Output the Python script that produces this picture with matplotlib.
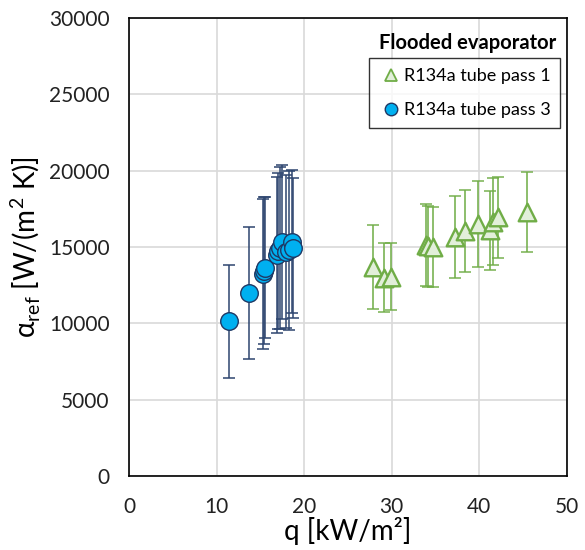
import matplotlib
matplotlib.use("Agg")
import matplotlib.pyplot as plt
from matplotlib.lines import Line2D

plt.rcParams['font.family'] = ['Lato', 'DejaVu Sans']

# Tube pass 1 (R134a)
q_pass1 = [27.9, 29.1, 29.9, 33.9, 34.1, 34.7, 37.2, 38.4, 39.8, 41.2, 41.6, 42.1, 45.4]
a_pass1 = [13700, 13000, 13050, 15150, 15050, 15000, 15650, 16050, 16500, 16100, 16650, 16950, 17300]
e_pass1 = [2750, 2250, 2200, 2700, 2650, 2600, 2700, 2700, 2800, 2600, 2850, 2650, 2650]

# Tube pass 3 (R134a)
q_pass3 = [11.4, 13.7, 15.3, 15.4, 15.5, 16.9, 17.0, 17.3, 17.5, 17.9, 18.3, 18.6, 18.7]
a_pass3 = [10150, 12000, 13250, 13450, 13650, 14500, 14750, 14950, 15350, 14700, 14800, 15350, 14950]
e_pass3 = [3700, 4300, 4900, 4800, 4600, 5100, 5100, 5300, 5050, 5000, 5200, 4700, 4600]

x_ticks = [0, 10, 20, 30, 40, 50]
y_ticks = [0, 5000, 10000, 15000, 20000, 25000, 30000]

green_edge = '#70AD47'
green_face = '#E2EFDA'
blue_face = '#00B0F0'
blue_edge = '#1F3864'

fig = plt.figure(figsize=(5.85, 5.5), dpi=100)
ax = fig.add_axes([0.2205, 0.1345, 0.7485, 0.8325])

ax.errorbar(q_pass1, a_pass1, yerr=e_pass1, fmt='none', ecolor=green_edge,
            elinewidth=1.4, capsize=4, capthick=1.3, alpha=0.8, zorder=3)
ax.scatter(q_pass1, a_pass1, marker='^', s=160, facecolor=green_face,
           edgecolor=green_edge, linewidth=1.7, zorder=4)

ax.errorbar(q_pass3, a_pass3, yerr=e_pass3, fmt='none', ecolor='#2E4670',
            elinewidth=1.3, capsize=4, capthick=1.3, alpha=0.85, zorder=3)
ax.scatter(q_pass3, a_pass3, marker='o', s=160, facecolor=blue_face,
           edgecolor=blue_edge, linewidth=1.0, zorder=4)

ax.set_xlim(0, 50)
ax.set_ylim(0, 30000)
ax.set_xticks(x_ticks)
ax.set_yticks(y_ticks)
ax.tick_params(axis='both', length=0, labelsize=15, colors='#222222')
ax.tick_params(axis='x', pad=15)
ax.tick_params(axis='y', pad=14)
ax.grid(True, color='#D9D9D9', linewidth=1.2, zorder=0)
ax.set_axisbelow(True)
for s in ax.spines.values():
    s.set_color('black')
    s.set_linewidth(1.2)

ax.set_xlabel('q [kW/m²]', fontsize=20, labelpad=0)
ax.set_ylabel('α$_{\\mathregular{ref}}$ [W/(m$^{\\mathregular{2}}$ K)]', fontsize=20, labelpad=4)

handles = [
    Line2D([], [], marker='^', linestyle='none', markersize=9,
           markerfacecolor=green_face, markeredgecolor=green_edge, markeredgewidth=1.3),
    Line2D([], [], marker='o', linestyle='none', markersize=9,
           markerfacecolor=blue_face, markeredgecolor=blue_edge, markeredgewidth=1.0),
]
leg = ax.legend(handles, ['R134a tube pass 1', 'R134a tube pass 3'],
                loc='upper right', bbox_to_anchor=(0.985, 0.913), fontsize=13,
                frameon=True, fancybox=False, edgecolor='black',
                handletextpad=0.05, handlelength=1.3, borderpad=0.55,
                labelspacing=1.0, borderaxespad=0)
leg.get_frame().set_linewidth(1.0)
ax.text(0.975, 0.945, 'Flooded evaporator', transform=ax.transAxes,
        ha='right', va='center', fontsize=14.5, fontweight='bold')

fig.savefig('out.png', dpi=100)
